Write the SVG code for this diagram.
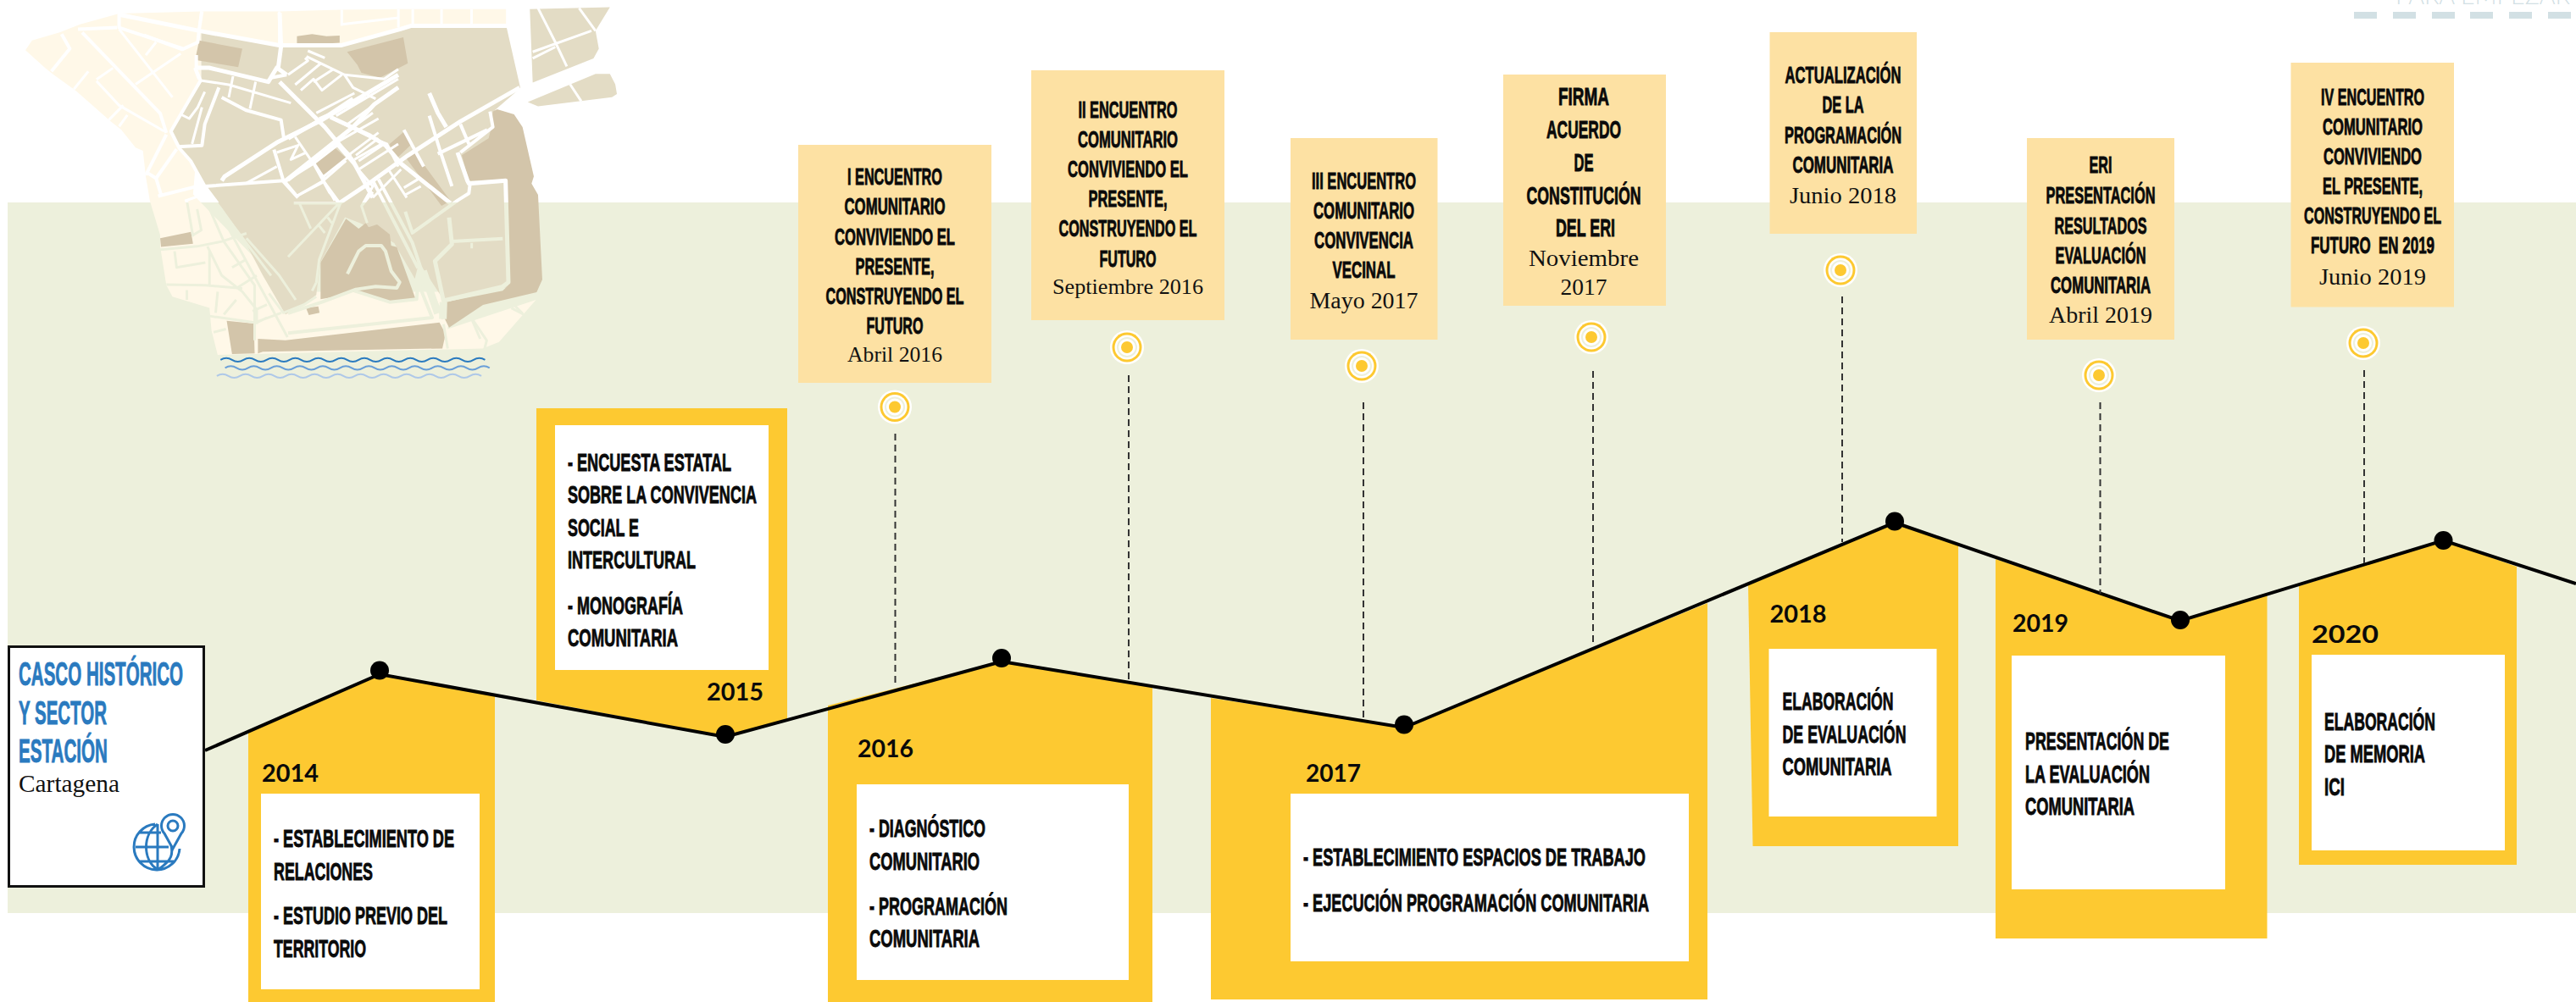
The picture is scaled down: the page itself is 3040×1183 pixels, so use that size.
<svg xmlns="http://www.w3.org/2000/svg" width="3040" height="1183" viewBox="0 0 3040 1183">
<defs>
<style>
.n{font-family:"Liberation Sans Narrow","Liberation Sans",sans-serif;font-weight:700;font-size:30px;fill:#0a0a0a;stroke:#0a0a0a;stroke-width:.9}
.c{text-anchor:middle}
.s{font-size:28px}
.b{font-size:38px;fill:#2a7abf;stroke:#2a7abf}
.d{font-family:"Liberation Serif",serif;font-size:26px;fill:#111;text-anchor:middle}
.d2{font-size:28px}
.y{font-family:Lato,"Liberation Sans",sans-serif;font-weight:700;font-size:28px;fill:#0a0a0a}
.yb{fill:#fdc931}
.wb{fill:#fff}
.pb{fill:#fde1a3}
.ns{vector-effect:non-scaling-stroke;fill:none;stroke-linejoin:round}
.dash{stroke:#333;stroke-width:2;stroke-dasharray:8 5;fill:none}
.o1{fill:#fff}.o2{fill:#fdc931}.o3{fill:#fff}.o4{fill:#edf0dc}.o5{fill:#fff}.o6{fill:#fdc931}
</style>
<clipPath id="above"><rect x="0" y="0" width="800" height="239"/></clipPath>
<clipPath id="below"><rect x="0" y="239" width="800" height="300"/></clipPath>
<g id="target">
<circle class="o1" r="20"/><circle class="o2" r="17.5"/><circle class="o3" r="14.5"/><circle class="o4" r="12"/><circle class="o5" r="10"/><circle class="o6" r="7"/>
</g>
<g id="streets">
<g transform="scale(.4847 .3827)">
<path class="ns" stroke-width="5" d="M290,45L485,95L680,140L830,140L975,90L1000,80L1235,80"/>
<path class="ns" stroke-width="4" d="M290,42V85L445,150M190,90L285,85M200,100L390,350L405,410M150,105L170,150L125,220M405,415L355,540M430,460L380,550L355,530M380,550L392,600M385,605L495,570"/>
<path class="ns" stroke-width="3" d="M290,90L420,300M440,165L330,260M380,130L355,170M275,210L235,245M215,220L180,275M300,325L265,370M310,355L290,390M235,250L290,325L400,405M490,35L485,90M680,35V140M832,30V80M832,75L970,55M970,28V85M1005,28V75M1075,28V75M1148,28V75"/>
<path class="ns" stroke-width="3" d="M600,720L540,745L480,760L390,770M590,890L500,880L405,878M625,850L575,890M455,620L470,730M480,645L490,710L470,725M450,620L495,600L545,745L620,880L620,1050M505,760L540,850L590,900L625,955V1000M425,775L430,825L500,810M510,770V880M600,800L565,825M455,895V925M530,900L525,965M575,925L545,970M615,960L650,940M650,980L625,995M510,975L620,995L685,965M520,1025L550,1015M520,620L700,1040M540,650L660,850M600,735L680,850L720,925M655,905L690,965L740,940L770,915M1080,1000L1090,1075M1150,985L1185,1050L1180,1075M1245,950L1275,970"/>
<path class="ns" stroke-width="3" d="M1310,25L1352,130L1380,205M1410,25L1450,95M1297,160L1440,95M1297,180L1352,145M1388,260L1415,312"/>
</g>
<g transform="translate(170 0) scale(.3333)">
<path class="ns" stroke-width="5" d="M480,45L485,165L475,240M180,240H230L440,290L470,240L505,265M480,290L640,450L740,570L810,700M275,640L285,625L470,505L580,450L630,425L900,265M495,645L640,530L740,450L815,370L900,310"/>
<path class="ns" stroke-width="4" d="M200,285L95,465L125,525L165,570L215,660L260,720M205,40L195,105L190,150L135,175L0,125M185,195L185,250L200,285M275,345L360,390L485,425L495,490M265,310L215,440L205,515L120,520M460,530L495,645L545,700M215,660L495,640L545,700M180,240L195,280M450,275L505,265"/>
<path class="ns" stroke-width="3" d="M200,285L300,300L520,365M315,270L300,345M395,290L375,385M215,325L190,380L160,420L130,405M205,380L170,510M360,650L470,590M470,540L545,515L520,565L575,540M510,265L580,215L570,205M535,300L625,225M555,320L600,280L630,320L700,265M600,290L670,245M580,180L640,205M575,200L710,265L740,310L820,350M710,265L850,280L900,245M610,400L745,330M620,420L800,340M680,410L900,280M720,440L900,310M660,415L810,490L860,510L900,590M600,580L690,510L730,550L630,630M535,485L600,580L655,680L690,720M495,645L600,580M540,695L635,640L690,715M730,545L830,470M745,565L850,505M760,600L900,510M810,700L910,600"/>
</g>
<g transform="translate(340 100) scale(.3333)">
<path class="ns" stroke-width="5" d="M820,10L610,130L425,250L300,340L180,420M500,30L530,100L560,150M150,115L290,180L345,215L400,280L575,420M0,190L140,110L230,50M600,240L635,340L640,350L770,340L780,700L760,715L550,765L520,625L580,565L570,470"/>
<path class="ns" stroke-width="4" d="M410,160L480,290M500,110L540,240L580,360M530,245L705,160M610,140L640,210M715,95L725,150L610,240M580,555L760,545M645,345L640,385L600,410L440,525L415,450M320,335L440,560L470,650L550,830M300,340L460,650"/>
<path class="ns" stroke-width="3" d="M355,300L420,400M410,365L460,335M415,390L470,360M0,340L180,200L320,120M250,270L340,210M240,250L320,190M80,270L210,165L300,100M120,330L165,410M30,395L125,345M90,275L130,335L205,270M175,215L300,360L260,430L280,490M300,380L260,430M185,420L110,620L100,700L85,730M180,420L0,610M20,420H175M40,420L80,510M110,500L130,525M140,470L155,490M650,830L680,900M800,780L830,810M650,560V580"/>
<path class="ns" stroke-width="4" d="M210,670L250,590L275,570H330L345,590L365,660L395,700L385,720L310,715L240,725L120,770L0,810M235,730L360,770L455,760L460,700L510,825L0,880"/>
<path class="ns" stroke-width="9" d="M478,660L530,810M550,770L548,830"/>
</g>
</g>
</defs>

<rect id="band" x="9" y="239" width="3031" height="839" fill="#edf0dc"/>

<g id="map">
<g transform="scale(.4847 .3827)">
<path fill="#fff8e8" d="M62,155L78,125L145,100L195,75L290,42L490,35L680,35L830,30L970,28L1232,28V80H1000L970,95L830,140L680,140L490,95V300L470,600L700,900L1100,900L1090,1015L1305,925L1215,1055L1175,1075L530,1095L515,1020L510,950L420,915L405,880L390,760L390,725L365,620L355,545L348,465L330,455L295,400L270,375L185,280L130,230L110,210Z"/>
<path fill="#e3dcc5" d="M490,97L680,142L830,145L1000,82H1233L1267,272L1205,340V560H1240V885L1080,925L1020,810L1010,860L960,750L880,690L840,670L780,810L770,910L740,940L695,970L670,915L640,850L590,730L540,640L500,575L470,510L415,410L490,255Z"/>
<path fill="#e3dcc5" d="M1290,28L1485,22L1450,95L1458,150L1445,180L1297,255ZM1285,315L1450,228H1485L1498,260L1502,290L1490,300L1310,328Z"/>
<path fill="#d3c5aa" d="M485,125L590,150L580,207L475,185ZM723,112L760,105L795,112L827,110V132L723,140ZM845,160L982,115L993,195L925,240L880,225L870,200ZM985,405L1002,445L965,490L948,445ZM815,455L845,490L785,548L762,505ZM1010,470L1097,620L1075,635L990,490ZM390,735L465,715L470,752L392,762ZM745,950L775,945L778,965L752,972ZM552,990L618,998L620,1090L565,1092ZM628,1045L695,1050L1070,995L1085,1030L1077,1075L640,1085L628,1090Z"/>
</g>
<g transform="translate(340 100) scale(.3333)">
<path fill="#d3c5aa" d="M725,95L740,87L800,105L830,150L870,325L862,350L885,390L900,690L880,735L690,780L570,860L550,820L555,770L760,730L780,710L775,335L640,340L615,250L710,190L720,150Z"/>
<path fill="#d3c5aa" d="M115,630L205,475L250,510L275,490L285,505L315,495L360,530L365,570L385,575L450,755L355,770L220,730L170,750L115,760Z"/>
</g>
<g clip-path="url(#above)" stroke="#fff"><use href="#streets"/></g>
<g clip-path="url(#below)" stroke="#edf0dc"><use href="#streets"/></g>
<g transform="scale(.4847 .3827)" fill="none">
<path class="ns" stroke="#2a7abf" stroke-width="2" d="M537,1110q14,-11 28,0t28,0t28,0t28,0t28,0t28,0t28,0t28,0t28,0t28,0t28,0t28,0t28,0t28,0t28,0t28,0t28,0t28,0t28,0t28,0t28,0t28,0t28,0"/>
<path class="ns" stroke="#6a9fd8" stroke-width="2" d="M548,1135q14,-11 28,0t28,0t28,0t28,0t28,0t28,0t28,0t28,0t28,0t28,0t28,0t28,0t28,0t28,0t28,0t28,0t28,0t28,0t28,0t28,0t28,0t28,0t28,0"/>
<path class="ns" stroke="#aec8e8" stroke-width="2" d="M528,1160q14,-11 28,0t28,0t28,0t28,0t28,0t28,0t28,0t28,0t28,0t28,0t28,0t28,0t28,0t28,0t28,0t28,0t28,0t28,0t28,0t28,0t28,0t28,0t28,0"/>
</g>
</g>

<g id="para-empezar" fill="#d2e0e4">
<text x="2827" y="5" font-family="Lato,'Liberation Sans',sans-serif" font-weight="300" font-size="30" textLength="206" lengthAdjust="spacingAndGlyphs">PARA EMPEZAR</text>
<rect x="2778" y="14" width="27" height="8"/><rect x="2824" y="14" width="27" height="8"/><rect x="2870" y="14" width="27" height="8"/><rect x="2915" y="14" width="27" height="8"/><rect x="2961" y="14" width="27" height="8"/><rect x="3007" y="14" width="27" height="8"/>
</g>

<g id="y2014">
<polygon class="yb" points="293,864 448,796 584,822 584,1183 293,1183"/>
<rect class="wb" x="308" y="937" width="258" height="231"/>
<text class="y" x="309" y="923" textLength="67" lengthAdjust="spacingAndGlyphs">2014</text>
<text class="n" x="323" y="1000" textLength="213" lengthAdjust="spacingAndGlyphs">- ESTABLECIMIENTO DE</text>
<text class="n" x="323" y="1039" textLength="117" lengthAdjust="spacingAndGlyphs">RELACIONES</text>
<text class="n" x="323" y="1091" textLength="205" lengthAdjust="spacingAndGlyphs">- ESTUDIO PREVIO DEL</text>
<text class="n" x="323" y="1130" textLength="109" lengthAdjust="spacingAndGlyphs">TERRITORIO</text>
</g>
<g id="y2015">
<polygon class="yb" points="633,482 929,482 929,849 856,869 633,827"/>
<rect class="wb" x="655" y="502" width="252" height="289"/>
<text class="y" x="834" y="827" textLength="67" lengthAdjust="spacingAndGlyphs">2015</text>
<text class="n" x="670" y="556" textLength="193" lengthAdjust="spacingAndGlyphs">- ENCUESTA ESTATAL</text>
<text class="n" x="670" y="594" textLength="223" lengthAdjust="spacingAndGlyphs">SOBRE LA CONVIVENCIA</text>
<text class="n" x="670" y="633" textLength="84" lengthAdjust="spacingAndGlyphs">SOCIAL E</text>
<text class="n" x="670" y="671" textLength="151" lengthAdjust="spacingAndGlyphs">INTERCULTURAL</text>
<text class="n" x="670" y="725" textLength="136" lengthAdjust="spacingAndGlyphs">- MONOGRAFÍA</text>
<text class="n" x="670" y="763" textLength="130" lengthAdjust="spacingAndGlyphs">COMUNITARIA</text>
</g>
<g id="y2016">
<polygon class="yb" points="977,833 1182,781 1360,810 1360,1183 977,1183"/>
<rect class="wb" x="1011" y="926" width="321" height="231"/>
<text class="y" x="1012" y="894" textLength="66" lengthAdjust="spacingAndGlyphs">2016</text>
<text class="n" x="1026" y="988" textLength="137" lengthAdjust="spacingAndGlyphs">- DIAGNÓSTICO</text>
<text class="n" x="1026" y="1027" textLength="130" lengthAdjust="spacingAndGlyphs">COMUNITARIO</text>
<text class="n" x="1026" y="1080" textLength="163" lengthAdjust="spacingAndGlyphs">- PROGRAMACIÓN</text>
<text class="n" x="1026" y="1118" textLength="130" lengthAdjust="spacingAndGlyphs">COMUNITARIA</text>
</g>
<g id="y2017">
<polygon class="yb" points="1429,824 1657,859 2015,712 2015,1180 1429,1180"/>
<rect class="wb" x="1523" y="937" width="470" height="198"/>
<text class="y" x="1541" y="923" textLength="65" lengthAdjust="spacingAndGlyphs">2017</text>
<text class="n" x="1538" y="1022" textLength="404" lengthAdjust="spacingAndGlyphs">- ESTABLECIMIENTO ESPACIOS DE TRABAJO</text>
<text class="n" x="1538" y="1076" textLength="408" lengthAdjust="spacingAndGlyphs">- EJECUCIÓN PROGRAMACIÓN COMUNITARIA</text>
</g>
<g id="y2018">
<polygon class="yb" points="2063,689 2236,617 2311,644 2311,999 2068.5,999"/>
<rect class="wb" x="2087.5" y="766" width="198" height="198"/>
<text class="y" x="2088.5" y="735" textLength="67" lengthAdjust="spacingAndGlyphs">2018</text>
<text class="n" x="2103.5" y="838" textLength="131" lengthAdjust="spacingAndGlyphs">ELABORACIÓN</text>
<text class="n" x="2103.5" y="877" textLength="146" lengthAdjust="spacingAndGlyphs">DE EVALUACIÓN</text>
<text class="n" x="2103.5" y="915" textLength="129" lengthAdjust="spacingAndGlyphs">COMUNITARIA</text>
</g>
<g id="y2019">
<polygon class="yb" points="2355,660 2573,733 2675.5,703 2675.5,1108 2355,1108"/>
<rect class="wb" x="2374" y="774" width="252" height="276"/>
<text class="y" x="2375" y="746" textLength="66" lengthAdjust="spacingAndGlyphs">2019</text>
<text class="n" x="2390" y="885" textLength="170" lengthAdjust="spacingAndGlyphs">PRESENTACIÓN DE</text>
<text class="n" x="2390" y="924" textLength="147" lengthAdjust="spacingAndGlyphs">LA EVALUACIÓN</text>
<text class="n" x="2390" y="962" textLength="129" lengthAdjust="spacingAndGlyphs">COMUNITARIA</text>
</g>
<g id="y2020">
<polygon class="yb" points="2713,692 2883.5,638 2970,669 2970,1021 2713,1021"/>
<rect class="wb" x="2728" y="773" width="228" height="231"/>
<text class="y" x="2728" y="759" textLength="79" lengthAdjust="spacingAndGlyphs">2020</text>
<text class="n" x="2743" y="862" textLength="131" lengthAdjust="spacingAndGlyphs">ELABORACIÓN</text>
<text class="n" x="2743" y="900" textLength="119" lengthAdjust="spacingAndGlyphs">DE MEMORIA</text>
<text class="n" x="2743" y="939" textLength="24" lengthAdjust="spacingAndGlyphs">ICI</text>
</g>

<g id="connectors">
<polyline points="242,886 448,796 856,870 1182,781 1657,859 2236,617 2573,733 2883.5,638 3040,689" fill="none" stroke="#000" stroke-width="4"/>
<path class="dash" d="M1056.5,512V807M1332,443V805M1609,475V848M1880,438V763M2174,350V640M2478.5,475V701M2790,437V665"/>
</g>
<g id="timeline-dots" fill="#000">
<circle cx="448" cy="791.5" r="11"/><circle cx="856" cy="867" r="11"/><circle cx="1182" cy="777" r="11"/><circle cx="1657" cy="855.5" r="11"/><circle cx="2236" cy="615.5" r="11"/><circle cx="2573" cy="732" r="11"/><circle cx="2883.5" cy="638" r="11"/>
</g>

<g id="location">
<rect x="10.5" y="763.5" width="230" height="283" fill="#fff" stroke="#111" stroke-width="3"/>
<text class="n b" x="22" y="809" textLength="194" lengthAdjust="spacingAndGlyphs">CASCO HISTÓRICO</text>
<text class="n b" x="22" y="855" textLength="104" lengthAdjust="spacingAndGlyphs">Y SECTOR</text>
<text class="n b" x="22" y="900" textLength="105" lengthAdjust="spacingAndGlyphs">ESTACIÓN</text>
<text class="d" x="22" y="935" style="text-anchor:start;font-size:30px" textLength="119" lengthAdjust="spacingAndGlyphs">Cartagena</text>
<g fill="none" stroke="#2a7abf" stroke-width="3">
<path d="M183,973A27,27 0 1,0 212,1002M186,973V1027M160,1000H199M165,983H190M165,1017H205M186,973C168,985 168,1015 186,1027C204,1015 204,1008 202,998"/>
<path d="M204,1002L194,984A13.5,13.5 0 1,1 214,984Z" fill="#fff"/>
<circle cx="204" cy="975" r="6"/>
</g>
</g>

<g id="event-2016-04">
<rect class="pb" x="942" y="171" width="228" height="281"/>
<text class="n s c" x="1056" y="218" textLength="112" lengthAdjust="spacingAndGlyphs">I ENCUENTRO</text>
<text class="n s c" x="1056" y="253" textLength="119" lengthAdjust="spacingAndGlyphs">COMUNITARIO</text>
<text class="n s c" x="1056" y="289" textLength="142" lengthAdjust="spacingAndGlyphs">CONVIVIENDO EL</text>
<text class="n s c" x="1056" y="324" textLength="93" lengthAdjust="spacingAndGlyphs">PRESENTE,</text>
<text class="n s c" x="1056" y="359" textLength="163" lengthAdjust="spacingAndGlyphs">CONSTRUYENDO EL</text>
<text class="n s c" x="1056" y="394" textLength="67" lengthAdjust="spacingAndGlyphs">FUTURO</text>
<text class="d" x="1056" y="427" textLength="112" lengthAdjust="spacingAndGlyphs">Abril 2016</text>
<use href="#target" x="1056" y="480.5"/>
</g>
<g id="event-2016-09">
<rect class="pb" x="1217" y="83" width="228" height="295"/>
<text class="n s c" x="1331" y="139" textLength="117" lengthAdjust="spacingAndGlyphs">II ENCUENTRO</text>
<text class="n s c" x="1331" y="174" textLength="118" lengthAdjust="spacingAndGlyphs">COMUNITARIO</text>
<text class="n s c" x="1331" y="209" textLength="142" lengthAdjust="spacingAndGlyphs">CONVIVIENDO EL</text>
<text class="n s c" x="1331" y="244" textLength="93" lengthAdjust="spacingAndGlyphs">PRESENTE,</text>
<text class="n s c" x="1331" y="279" textLength="163" lengthAdjust="spacingAndGlyphs">CONSTRUYENDO EL</text>
<text class="n s c" x="1331" y="315" textLength="67" lengthAdjust="spacingAndGlyphs">FUTURO</text>
<text class="d" x="1331" y="347" textLength="178" lengthAdjust="spacingAndGlyphs">Septiembre 2016</text>
<use href="#target" x="1330" y="410"/>
</g>
<g id="event-2017-05">
<rect class="pb" x="1523" y="163" width="173.5" height="238"/>
<text class="n s c" x="1609.5" y="223" textLength="123" lengthAdjust="spacingAndGlyphs">III ENCUENTRO</text>
<text class="n s c" x="1609.5" y="258" textLength="119" lengthAdjust="spacingAndGlyphs">COMUNITARIO</text>
<text class="n s c" x="1609.5" y="293" textLength="117" lengthAdjust="spacingAndGlyphs">CONVIVENCIA</text>
<text class="n s c" x="1609.5" y="328" textLength="74" lengthAdjust="spacingAndGlyphs">VECINAL</text>
<text class="d d2" x="1609.5" y="364" textLength="128" lengthAdjust="spacingAndGlyphs">Mayo 2017</text>
<use href="#target" x="1607" y="432"/>
</g>
<g id="event-2017-11">
<rect class="pb" x="1774" y="88" width="192" height="273"/>
<text class="n c" x="1869" y="124" textLength="60" lengthAdjust="spacingAndGlyphs">FIRMA</text>
<text class="n c" x="1869" y="163" textLength="88" lengthAdjust="spacingAndGlyphs">ACUERDO</text>
<text class="n c" x="1869" y="202" textLength="23" lengthAdjust="spacingAndGlyphs">DE</text>
<text class="n c" x="1869" y="241" textLength="135" lengthAdjust="spacingAndGlyphs">CONSTITUCIÓN</text>
<text class="n c" x="1871" y="279" textLength="70" lengthAdjust="spacingAndGlyphs">DEL ERI</text>
<text class="d d2" x="1869" y="314" textLength="130" lengthAdjust="spacingAndGlyphs">Noviembre</text>
<text class="d d2" x="1869" y="348" textLength="55" lengthAdjust="spacingAndGlyphs">2017</text>
<use href="#target" x="1878" y="398"/>
</g>
<g id="event-2018-06">
<rect class="pb" x="2088.5" y="38" width="173.5" height="238"/>
<text class="n s c" x="2175" y="98" textLength="137" lengthAdjust="spacingAndGlyphs">ACTUALIZACIÓN</text>
<text class="n s c" x="2175" y="133" textLength="49" lengthAdjust="spacingAndGlyphs">DE LA</text>
<text class="n s c" x="2175" y="168.5" textLength="138" lengthAdjust="spacingAndGlyphs">PROGRAMACIÓN</text>
<text class="n s c" x="2175" y="203.5" textLength="119" lengthAdjust="spacingAndGlyphs">COMUNITARIA</text>
<text class="d d2" x="2175" y="240" textLength="126" lengthAdjust="spacingAndGlyphs">Junio 2018</text>
<use href="#target" x="2172" y="319"/>
</g>
<g id="event-2019-04">
<rect class="pb" x="2392" y="163" width="174" height="238"/>
<text class="n s c" x="2479" y="204" textLength="27" lengthAdjust="spacingAndGlyphs">ERI</text>
<text class="n s c" x="2479" y="240" textLength="129" lengthAdjust="spacingAndGlyphs">PRESENTACIÓN</text>
<text class="n s c" x="2479" y="276" textLength="109" lengthAdjust="spacingAndGlyphs">RESULTADOS</text>
<text class="n s c" x="2479" y="311" textLength="107" lengthAdjust="spacingAndGlyphs">EVALUACIÓN</text>
<text class="n s c" x="2479" y="346" textLength="118" lengthAdjust="spacingAndGlyphs">COMUNITARIA</text>
<text class="d d2" x="2479" y="381" textLength="122" lengthAdjust="spacingAndGlyphs">Abril 2019</text>
<use href="#target" x="2477" y="443"/>
</g>
<g id="event-2019-06">
<rect class="pb" x="2703.5" y="74" width="192.5" height="288.5"/>
<text class="n s c" x="2800" y="123.5" textLength="122" lengthAdjust="spacingAndGlyphs">IV ENCUENTRO</text>
<text class="n s c" x="2800" y="159" textLength="118" lengthAdjust="spacingAndGlyphs">COMUNITARIO</text>
<text class="n s c" x="2800" y="194" textLength="116" lengthAdjust="spacingAndGlyphs">CONVIVIENDO</text>
<text class="n s c" x="2800" y="229" textLength="118" lengthAdjust="spacingAndGlyphs">EL PRESENTE,</text>
<text class="n s c" x="2800" y="264" textLength="162" lengthAdjust="spacingAndGlyphs">CONSTRUYENDO EL</text>
<text class="n s c" x="2800" y="299" textLength="146" lengthAdjust="spacingAndGlyphs" xml:space="preserve">FUTURO  EN 2019</text>
<text class="d d2" x="2800" y="336" textLength="126" lengthAdjust="spacingAndGlyphs">Junio 2019</text>
<use href="#target" x="2789" y="405"/>
</g>
</svg>
